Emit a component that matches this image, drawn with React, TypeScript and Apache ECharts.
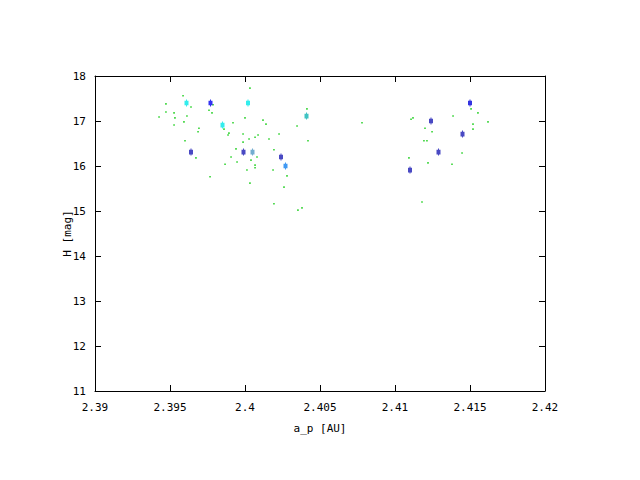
import React, { useEffect, useRef } from "react";
import * as echarts from "echarts";

// Faint background objects (green dots): [a_p, H]
const dotsA: number[] = [
  2.40033, 2.39587, 2.39473, 2.3964, 2.3976, 2.39787, 2.39473, 2.39527, 2.3978, 2.39427,
  2.39613, 2.39533, 2.4, 2.39593, 2.3992, 2.39527, 2.39693, 2.3986, 2.39687, 2.39893,
  2.39987, 2.39887, 2.40087, 2.40067, 2.40027, 2.396, 2.39987, 2.3994, 2.4008, 2.39673,
  2.39907, 2.4004, 2.39947, 2.39867, 2.40067, 2.40067, 2.40013, 2.39767, 2.40033,
  2.40413, 2.4012, 2.4014, 2.40347, 2.40227, 2.4016, 2.4042, 2.40193, 2.40187, 2.4028,
  2.4026, 2.40193, 2.4038, 2.40353, 2.4078,
  2.41507, 2.41553, 2.41107, 2.4112, 2.41387, 2.4162, 2.4152, 2.412, 2.4152, 2.41247,
  2.41193, 2.41213, 2.41447, 2.41093, 2.4122, 2.4138, 2.4118,
];
const dotsH: number[] = [
  17.73, 17.56, 17.38, 17.31, 17.24, 17.36, 17.2, 17.18, 17.18, 17.09,
  17.11, 17.07, 17.07, 16.98, 16.96, 16.91, 16.84, 16.82, 16.76, 16.73,
  16.71, 16.69, 16.69, 16.64, 16.6, 16.56, 16.53, 16.38, 16.2, 16.18,
  16.2, 16.13, 16.09, 16.04, 16.02, 15.96, 15.91, 15.76, 15.62,
  17.27, 17.02, 16.93, 16.89, 16.71, 16.6, 16.56, 16.36, 15.91, 15.78,
  15.53, 15.16, 15.07, 15.02, 16.96,
  17.27, 17.18, 17.04, 17.07, 17.11, 16.98, 16.93, 16.84, 16.82, 16.76,
  16.56, 16.56, 16.29, 16.18, 16.07, 16.04, 15.2,
];

// Highlighted objects
const bigA: number[] = [
  2.3961, 2.3977, 2.4002, 2.3985, 2.3964, 2.3999, 2.4005, 2.4041, 2.4024, 2.4027,
  2.411, 2.4124, 2.4129, 2.4145, 2.415,
];
const bigH: number[] = [
  17.4, 17.4, 17.4, 16.91, 16.31, 16.31, 16.31, 17.11, 16.2, 16.0,
  15.91, 17.0, 16.31, 16.71, 17.4,
];
const bigColors: string[] = [
  "#00e8e8", "#0000ee", "#00e8e8", "#00e8e8", "#1c1cb4", "#1c1cb4", "#5098c4", "#10b4b4", "#1c1cb4", "#1080f0",
  "#1c1cb4", "#1c1cb4", "#1c1cb4", "#1c1cb4", "#0000d8",
];

const xTicks = { min: 2.39, max: 2.42, interval: 0.005 };
const yTicks = { min: 11, max: 18, interval: 1 };

const FONT = "DejaVu Sans Mono";
const SYMBOL = "path://M1.5 0h1v1h1.5v4h-1.5v1h-1v-1h-1.5v-4h1.5z";

export default function App() {
  const ref = useRef<HTMLDivElement>(null);
  useEffect(() => {
    if (!ref.current) return;
    const chart = echarts.init(ref.current, undefined, { renderer: "svg" });
    const axisLine = { show: true, lineStyle: { color: "#000", width: 1 } };
    const tick = { show: true, inside: true, length: 6, lineStyle: { color: "#000", width: 1 } };
    const fmt = (v: number) => String(+v.toFixed(4));
    chart.setOption({
      animation: false,
      backgroundColor: "#fff",
      grid: { left: 95, right: 95, top: 76, bottom: 89, containLabel: false },
      xAxis: [
        {
          type: "value", ...xTicks, position: "bottom",
          axisLine, axisTick: tick, splitLine: { show: false },
          axisLabel: { color: "#000", fontFamily: FONT, fontSize: 11, margin: 11, formatter: fmt },
          name: "a_p [AU]", nameLocation: "middle", nameGap: 32, nameMoveOverlap: false,
          nameTextStyle: { color: "#000", fontFamily: FONT, fontSize: 11 },
        },
        {
          type: "value", ...xTicks, position: "top",
          axisLine, axisTick: tick, splitLine: { show: false }, axisLabel: { show: false },
        },
      ],
      yAxis: [
        {
          type: "value", ...yTicks, position: "left",
          axisLine, axisTick: tick, splitLine: { show: false },
          axisLabel: { color: "#000", fontFamily: FONT, fontSize: 11, margin: 9 },
          name: "H [mag]", nameLocation: "middle", nameGap: 22, nameMoveOverlap: false,
          nameTextStyle: { color: "#000", fontFamily: FONT, fontSize: 11 },
        },
        {
          type: "value", ...yTicks, position: "right",
          axisLine, axisTick: tick, splitLine: { show: false }, axisLabel: { show: false },
        },
      ],
      series: [
        {
          type: "scatter",
          data: dotsA.map((a, i) => [a, dotsH[i]]),
          symbol: "rect",
          symbolSize: 1.6,
          itemStyle: { color: "#00c800" },
          silent: true,
          z: 2,
        },
        {
          type: "scatter",
          data: bigA.map((a, i) => ({ value: [a, bigH[i]], itemStyle: { color: bigColors[i] } })),
          symbol: SYMBOL,
          symbolSize: [4, 7],
          silent: true,
          z: 3,
        },
      ],
    });
    return () => chart.dispose();
  }, []);
  return (
    <div
      ref={ref}
      style={{ position: "absolute", left: 0, top: 0, width: 640, height: 480 }}
    />
  );
}
